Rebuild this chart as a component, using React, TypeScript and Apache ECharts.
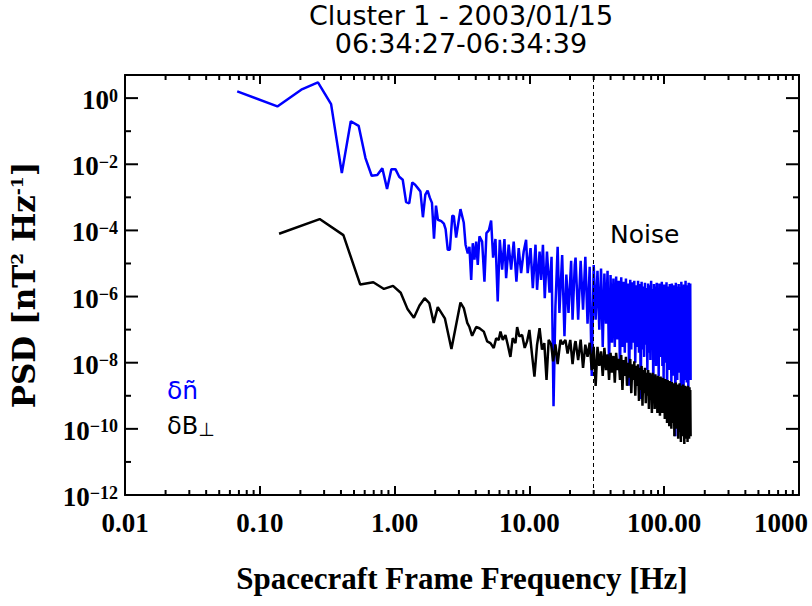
import React, { useEffect, useRef } from 'react';
import * as echarts from 'echarts';

// ---- low-frequency part of the density (blue) spectrum ----
const blueFreq = [0.068, 0.135, 0.203, 0.270, 0.338, 0.406, 0.473, 0.541, 0.608, 0.676,
  0.744, 0.811, 0.879, 0.946, 1.014, 1.082, 1.149, 1.217, 1.284, 1.352,
  1.42, 1.487, 1.555, 1.622, 1.69, 1.758, 1.825, 1.893, 1.96, 2.028,
  2.095, 2.22, 2.32, 2.39, 2.48, 2.57, 2.68, 2.75, 2.86, 3.08,
  3.26, 3.36, 3.49, 3.59, 3.70, 3.80, 3.91, 4.03, 4.14, 4.26,
  4.46, 4.64, 4.80, 5.00, 5.20, 5.38, 5.60, 5.82, 6.03, 6.28,
  6.53, 6.72, 7.02, 7.32, 7.65, 8.01, 8.33, 8.68, 9.07, 9.45,
  9.71, 10.2, 10.6, 11.1, 11.4, 11.9, 12.2, 12.6, 13.0, 13.5,
  14.1, 14.6, 15.1, 15.6, 16.2, 16.7, 17.5, 18.2, 18.8, 19.5,
  20.4, 20.9, 21.7];
const bluePsd = [1.6, 0.56, 1.8, 3.0, 0.66, 5.4e-3, 0.20, 0.145, 0.0154, 4.5e-3,
  4.7e-3, 7.6e-3, 1.8e-3, 7.1e-3, 7.1e-3, 4.2e-3, 3.4e-3, 7.2e-4, 6.6e-4, 2.8e-3,
  2.4e-3, 1.9e-3, 1.5e-3, 2.5e-4, 1.2e-3, 1.6e-3, 9.8e-4, 6.8e-4, 5.6e-5, 5.6e-4,
  2.1e-4, 1.9e-4, 1.6e-4, 1.1e-4, 2.6e-5, 2.6e-5, 2.8e-4, 2.7e-4, 6.1e-5, 4.4e-4,
  1.7e-4, 3.7e-5, 2.0e-5, 3.2e-5, 3.2e-6, 4.1e-5, 1.3e-5, 4.6e-5, 9.1e-6, 6.6e-5,
  4.6e-5, 2.8e-6, 8.3e-5, 1.0e-4, 2.0e-4, 1.5e-5, 5.5e-5, 7.1e-7, 5.2e-5, 6.5e-6,
  5.5e-5, 3.6e-6, 3.7e-5, 6.5e-6, 4.6e-5, 2.8e-6, 2.9e-5, 5.1e-6, 2.3e-5, 5.2e-5,
  5.1e-6, 2.9e-5, 1.8e-6, 3.7e-5, 1.6e-6, 2.3e-5, 3.2e-6, 3.7e-5, 8.9e-7, 2.3e-5,
  1.3e-6, 1.6e-5, 4.8e-10, 5.0e-7, 3.2e-5, 3.2e-7, 1.8e-5, 6.3e-8, 4.6e-6, 3.2e-7,
  1.2e-5, 2.0e-7, 9.1e-6];

// ---- low-frequency part of the magnetic (black) spectrum ----
const blackFreq = [0.139, 0.278, 0.417, 0.556, 0.695, 0.834, 0.973, 1.11, 1.25, 1.39,
  1.53, 1.67, 1.81, 1.95, 2.09, 2.36, 2.64, 3.08, 3.26, 3.46,
  3.59, 3.76, 4.03, 4.26, 4.59, 4.86, 5.14, 5.44, 5.67, 5.92,
  6.10, 6.35, 6.64, 6.91, 7.23, 7.52, 7.88, 8.11, 8.43, 8.83,
  9.23, 9.61, 10.0, 10.47, 10.9, 11.4, 11.9, 12.4, 12.9, 13.4,
  13.9, 14.5, 15.0, 15.6, 16.2, 17.0, 17.6, 18.5, 19.2, 20.1,
  20.9, 21.7];
const blackPsd = [7.9e-5, 2.2e-4, 7.2e-5, 2.3e-6, 2.7e-6, 1.7e-6, 2.1e-6, 1.3e-6, 4.1e-7, 2.3e-7,
  5.4e-7, 8.9e-7, 6.3e-7, 1.6e-7, 4.8e-7, 2.2e-7, 2.6e-8, 6.6e-7, 4.5e-7, 1.6e-7,
  1.2e-7, 6.5e-8, 1.2e-7, 1.1e-7, 8.7e-8, 4.4e-8, 3.9e-8, 2.8e-8, 5.5e-8, 4.9e-8,
  8.7e-8, 4.9e-8, 6.9e-8, 3.5e-8, 1.5e-8, 5.5e-8, 3.9e-8, 1.2e-7, 6.2e-8, 6.9e-8,
  2.8e-8, 4.4e-8, 9.8e-8, 1.7e-8, 3.8e-9, 3.5e-8, 1.1e-7, 2.5e-8, 3.9e-8, 3.0e-9,
  4.9e-8, 3.6e-8, 1.1e-8, 3.6e-8, 9.1e-9, 4.9e-8, 3.6e-8, 4.9e-8, 1.9e-8, 4.9e-8,
  9.1e-9, 3.6e-8];

// ---- dense high-frequency part (shared frequency list, Hz) ----
const denseFreq = [22, 23, 24, 25, 26, 27, 28, 29, 30, 31, 32, 33, 34, 35, 36, 37, 38, 39, 40,
  41, 42, 43, 44, 45, 46, 47, 48, 49, 50, 51, 52, 53, 54, 55, 56, 57, 58, 59, 60,
  61, 62, 63, 64, 65, 66, 67, 68, 69, 70, 71, 72, 73, 74, 75, 76, 77, 78, 79, 80,
  81, 82, 83, 84, 85, 86, 87, 88, 89, 90, 91, 92, 93, 94, 95, 96, 97, 98, 99, 100,
  101, 102, 103, 104, 105, 106, 107, 108, 109, 110, 111, 112, 113, 114, 115, 116, 117, 118, 119, 120,
  121, 122, 123, 124, 125, 126, 127, 128, 129, 130, 131, 132, 133, 134, 135, 136, 137, 138, 139, 140,
  141, 142, 143, 144, 145, 146, 147, 148, 149, 150, 151, 152, 153, 154, 155, 156, 157];
const blueDensePsd = [1.5e-5, 2e-7, 1.2e-5, 4e-7, 1.6e-5, 1.5e-7, 8e-6, 4e-9, 9e-6, 2e-7,
  6e-6, 1e-7, 7e-6, 3e-8, 5e-6, 1.5e-7, 6e-6, 8e-9, 4.5e-6,
  4e-8, 3.5e-6, 3e-8, 4e-6, 5e-8, 3e-6, 5e-9, 3.8e-6, 3e-8, 2.8e-6,
  2e-8, 3.5e-6, 4e-8, 2.5e-6, 2e-9, 3.2e-6, 2.5e-8, 2.7e-6, 4e-8, 3e-6,
  1e-8, 2.2e-6, 3e-8, 3e-6, 2e-8, 2.4e-6, 8e-10, 2.8e-6, 2.5e-8, 2e-6,
  1.5e-8, 2.6e-6, 3.5e-8, 1.8e-6, 6e-9, 2.5e-6, 2e-8, 2.2e-6, 1.2e-8, 3e-6,
  3e-8, 1.7e-6, 1.5e-9, 2.4e-6, 2e-8, 2e-6, 8e-9, 2.6e-6, 2.5e-8, 1.8e-6,
  4e-9, 2.5e-6, 1.5e-8, 2.1e-6, 3e-8, 2.8e-6, 8e-9, 1.7e-6, 3e-9, 2.3e-6,
  2e-8, 2e-6, 1e-8, 2.7e-6, 6e-10, 2e-6, 2e-8, 1.6e-6, 6e-9, 2.4e-6,
  1.5e-8, 1.9e-6, 2e-9, 2.5e-6, 1e-8, 1.8e-6, 4e-9, 2.2e-6, 2e-8, 1.6e-6,
  6e-11, 2.6e-6, 8e-9, 2e-6, 3e-9, 1.7e-6, 1.5e-8, 2.4e-6, 5e-9, 1.9e-6,
  1.2e-8, 1.5e-6, 1.5e-9, 2.8e-6, 8e-9, 2e-6, 4e-9, 1.8e-6, 1e-10, 2.3e-6,
  1.5e-8, 1.6e-6, 3e-9, 3e-6, 1e-8, 1.7e-6, 2.5e-9, 2.2e-6, 1.2e-8, 1.9e-6,
  1e-9, 2.6e-6, 6e-9, 1.8e-6, 1.5e-8, 2.5e-6, 3e-9];
const blackDensePsd = [4.5e-8, 1.2e-8, 5e-8, 7e-9, 3.5e-8, 1.5e-8, 4e-8, 6e-9, 3e-8, 2e-9,
  3e-8, 8e-9, 2.2e-8, 4e-9, 2.8e-8, 6e-9, 1.8e-8, 3e-9, 2e-8,
  5e-9, 1.6e-8, 2.5e-9, 2e-8, 6e-9, 1.3e-8, 3e-9, 1.7e-8, 1.5e-9, 1.2e-8,
  4e-9, 1.5e-8, 2e-9, 1e-8, 3.5e-9, 1.3e-8, 1.2e-9, 9e-9, 3e-9, 1.1e-8,
  1e-9, 8e-9, 2e-9, 9e-9, 7e-10, 7e-9, 1.5e-9, 8e-9, 5e-10, 6e-9,
  1.2e-9, 7e-9, 6e-10, 5e-9, 1e-9, 6e-9, 4e-10, 5e-9, 8e-10, 4.5e-9,
  3e-10, 5e-9, 7e-10, 4e-9, 4e-10, 4.5e-9, 1e-9, 3.5e-9, 3e-10, 4e-9,
  6e-10, 3e-9, 2.5e-10, 3.8e-9, 5e-10, 3e-9, 3e-10, 3.5e-9, 6e-10, 2.8e-9,
  2e-10, 3.2e-9, 4e-10, 2.5e-9, 1.5e-10, 3e-9, 3e-10, 2.2e-9, 1.2e-10, 2.8e-9,
  2.5e-10, 2e-9, 1e-10, 2.6e-9, 3e-10, 1.8e-9, 1.5e-10, 2.4e-9, 6e-11, 2e-9,
  2e-10, 2.5e-9, 1e-10, 1.8e-9, 2.5e-10, 2.2e-9, 5e-11, 1.8e-9, 1.5e-10, 2.4e-9,
  8e-11, 1.6e-9, 4e-11, 2e-9, 1.2e-10, 1.7e-9, 6e-11, 2.2e-9, 1e-10, 1.5e-9,
  3.5e-11, 2e-9, 1.2e-10, 1.6e-9, 5e-11, 1.9e-9, 1e-10, 1.5e-9, 4e-11, 2e-9,
  9e-11, 1.6e-9, 5e-11, 1.8e-9, 1.2e-10, 1.5e-9, 6e-11];

// ---- axes / ticks ----
const xMajorTicks = [0.01, 0.1, 1, 10, 100, 1000];
const xTickLabels = ['0.01', '0.10', '1.00', '10.00', '100.00', '1000'];
const xMinorTicks = [0.02, 0.03, 0.04, 0.05, 0.06, 0.07, 0.08, 0.09,
  0.2, 0.3, 0.4, 0.5, 0.6, 0.7, 0.8, 0.9,
  2, 3, 4, 5, 6, 7, 8, 9,
  20, 30, 40, 50, 60, 70, 80, 90,
  200, 300, 400, 500, 600, 700, 800, 900];
const yMajorTicks = [1e-12, 1e-10, 1e-8, 1e-6, 1e-4, 1e-2, 1];
const yTickExponents = ['\u221212', '\u221210', '\u22128', '\u22126', '\u22124', '\u22122', '0'];
const yMinorTicks = [1e-11, 1e-9, 1e-7, 1e-5, 1e-3, 1e-1];
const noiseFreq = 30;

const X_MIN = 0.01, X_MAX = 1000, Y_MIN = 1e-12, Y_MAX = 5;
const SERIF = '"Liberation Serif", "Times New Roman", serif';
const WIDE_SERIF = '"DejaVu Serif", serif';
const SANS = '"DejaVu Sans", sans-serif';

const zip = (f: number[], v: number[]) => f.map((x, i) => [x, v[i]]);
const blueData = zip(blueFreq, bluePsd).concat(zip(denseFreq, blueDensePsd));
const blackData = zip(blackFreq, blackPsd).concat(zip(denseFreq, blackDensePsd));

const axisLineStyle = { color: '#000', width: 2 };

function tickLine(x1: number, y1: number, x2: number, y2: number) {
  return { type: 'line', shape: { x1, y1, x2, y2 }, style: { stroke: '#000', lineWidth: 2 } };
}

export default function App() {
  const ref = useRef<HTMLDivElement>(null);
  useEffect(() => {
    const chart = echarts.init(ref.current!, null, { renderer: 'svg' });
    const option: any = {
      animation: false,
      backgroundColor: '#fff',
      title: {
        text: 'Cluster 1 - 2003/01/15\n06:34:27-06:34:39',
        left: 461, top: 1, padding: 0, textAlign: 'center',
        textStyle: { fontFamily: SANS, fontSize: 27, fontWeight: 'normal', color: '#000', lineHeight: 28 },
      },
      grid: { left: 124, right: 13, top: 75, bottom: 111, containLabel: false },
      xAxis: [
        {
          type: 'log', logBase: 10, min: X_MIN, max: X_MAX, position: 'bottom',
          axisLine: { show: true, onZero: false, lineStyle: axisLineStyle },
          axisTick: { show: true, inside: true, length: 9, lineStyle: axisLineStyle },
          splitLine: { show: false },
          axisLabel: {
            margin: 14, color: '#000', fontFamily: SERIF, fontSize: 27, fontWeight: 'bold',
            formatter: (v: number) => {
              const i = xMajorTicks.findIndex((t) => Math.abs(Math.log10(t) - Math.log10(v)) < 1e-6);
              if (i < 0) return '';
              return i === xMajorTicks.length - 1 ? `{last|${xTickLabels[i]}}` : xTickLabels[i];
            },
            rich: { last: { fontFamily: SERIF, fontSize: 27, fontWeight: 'bold', color: '#000', padding: [0, 36, 0, 0] } },
          },
          name: 'Spacecraft Frame Frequency [Hz]', nameLocation: 'middle', nameGap: 68,
          nameTextStyle: { fontFamily: SERIF, fontSize: 31, fontWeight: 'bold', color: '#000' },
        },
        {
          type: 'log', logBase: 10, min: X_MIN, max: X_MAX, position: 'top',
          axisLine: { show: true, onZero: false, lineStyle: axisLineStyle },
          axisTick: { show: true, inside: true, length: 9, lineStyle: axisLineStyle },
          axisLabel: { show: false }, splitLine: { show: false },
        },
      ],
      yAxis: [
        {
          type: 'log', logBase: 10, min: Y_MIN, max: Y_MAX, position: 'left',
          axisLine: { show: true, onZero: false, lineStyle: axisLineStyle },
          axisTick: { show: false }, axisLabel: { show: false }, splitLine: { show: false },
          name: 'PSD [nT{s|2} Hz{s|-1}]', nameLocation: 'middle', nameGap: 86, nameRotate: 90,
          nameTextStyle: {
            fontFamily: WIDE_SERIF, fontSize: 31, fontWeight: 'bold', color: '#000',
            rich: { s: { fontFamily: WIDE_SERIF, fontSize: 17, fontWeight: 'bold', color: '#000', verticalAlign: 'top' } },
          },
        },
        {
          type: 'log', logBase: 10, min: Y_MIN, max: Y_MAX, position: 'right',
          axisLine: { show: true, onZero: false, lineStyle: axisLineStyle },
          axisTick: { show: false }, axisLabel: { show: false }, splitLine: { show: false },
        },
      ],
      series: [
        {
          name: 'dn', type: 'line', data: blueData, xAxisIndex: 0, yAxisIndex: 0,
          showSymbol: false, symbol: 'none', lineStyle: { color: '#0000ff', width: 2.5 }, itemStyle: { color: '#0000ff' },
          z: 2,
          markLine: {
            silent: true, symbol: ['none', 'none'], label: { show: false },
            lineStyle: { type: [4, 3], color: '#000', width: 1 },
            data: [{ xAxis: noiseFreq }],
          },
        },
        {
          name: 'dB', type: 'line', data: blackData, xAxisIndex: 0, yAxisIndex: 0,
          showSymbol: false, symbol: 'none', lineStyle: { color: '#000', width: 2.5 }, itemStyle: { color: '#000' },
          z: 3,
        },
        {
          type: 'custom', silent: true, clip: false, z: 5,
          data: xMinorTicks.map((v) => [v, Y_MIN]),
          renderItem: (params: any, api: any) => {
            const cs = params.coordSys;
            const x = api.coord([api.value(0), Y_MIN])[0];
            return {
              type: 'group',
              children: [
                tickLine(x, cs.y + cs.height, x, cs.y + cs.height - 5),
                tickLine(x, cs.y, x, cs.y + 5),
              ],
            };
          },
        },
        {
          type: 'custom', silent: true, clip: false, z: 5,
          data: yMinorTicks.map((v) => [X_MIN, v]),
          renderItem: (params: any, api: any) => {
            const cs = params.coordSys;
            const y = api.coord([X_MIN, api.value(1)])[1];
            return {
              type: 'group',
              children: [
                tickLine(cs.x, y, cs.x + 6, y),
                tickLine(cs.x + cs.width, y, cs.x + cs.width - 6, y),
              ],
            };
          },
        },
        {
          type: 'custom', silent: true, clip: false, z: 5,
          data: yMajorTicks.map((v) => [X_MIN, v]),
          renderItem: (params: any, api: any) => {
            const cs = params.coordSys;
            const y = api.coord([X_MIN, api.value(1)])[1];
            const exp = yTickExponents[params.dataIndex];
            return {
              type: 'group',
              children: [
                tickLine(cs.x, y, cs.x + 13, y),
                tickLine(cs.x + cs.width, y, cs.x + cs.width - 13, y),
                {
                  type: 'text',
                  style: {
                    text: `{b|10}{e|${exp}}`,
                    x: cs.x - 7, y: y + 2, align: 'right', verticalAlign: 'middle',
                    rich: {
                      b: { fontFamily: SERIF, fontSize: 27, fontWeight: 'bold', fill: '#000' },
                      e: { fontFamily: SERIF, fontSize: 18, fontWeight: 'bold', fill: '#000', verticalAlign: 'top' },
                    },
                  },
                },
              ],
            };
          },
        },
      ],
      graphic: [
        { type: 'text', left: 610, top: 222, style: { text: 'Noise', font: `25px ${SANS}`, fill: '#000' } },
        { type: 'text', left: 167, top: 378, style: { text: '\u03b4\u00f1', font: `25px ${SANS}`, fill: '#0000ff' } },
        {
          type: 'text', left: 167, top: 414,
          style: {
            text: '\u03b4B{s|\u22a5}', font: `24px ${SANS}`, fill: '#000',
            rich: { s: { fontFamily: SANS, fontSize: 19, fill: '#000', verticalAlign: 'bottom' } },
          },
        },
      ],
    };
    chart.setOption(option);
    return () => chart.dispose();
  }, []);
  return (
    <div
      ref={ref}
      style={{ position: 'fixed', left: 0, top: 0, width: 812, height: 606, background: '#fff' }}
    />
  );
}
